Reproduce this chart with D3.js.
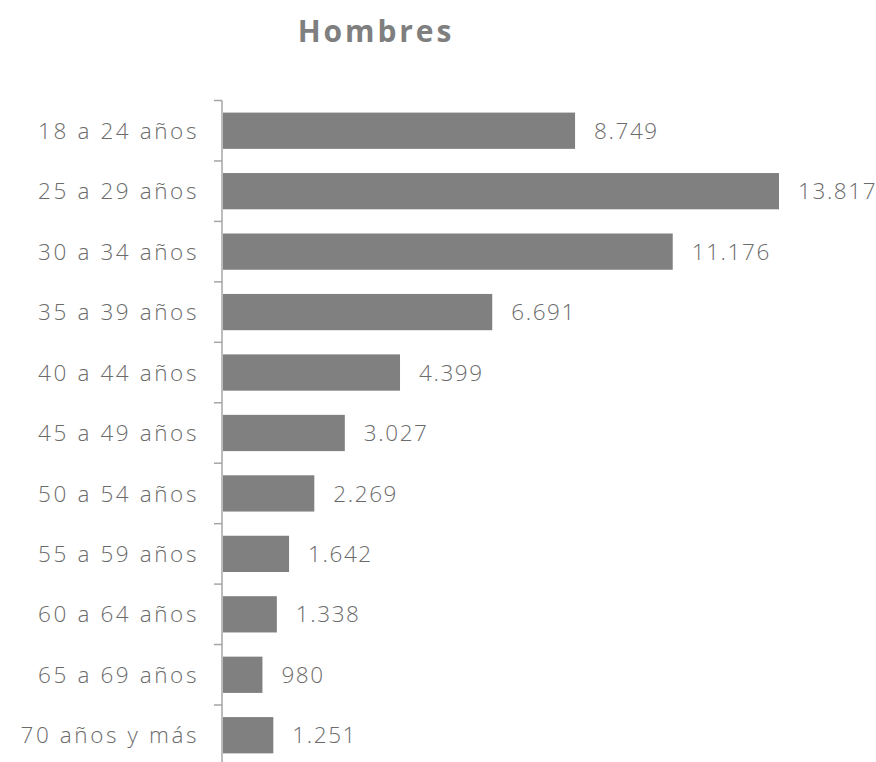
<!DOCTYPE html>
<html><head><meta charset="utf-8">
<script src="https://cdn.jsdelivr.net/npm/d3@7"></script>
<style>body{margin:0;background:#fff}svg{display:block}</style>
</head><body>
<script>
const categories = ["18 a 24 años","25 a 29 años","30 a 34 años","35 a 39 años","40 a 44 años","45 a 49 años","50 a 54 años","55 a 59 años","60 a 64 años","65 a 69 años","70 años y más"];
const values = [8749,13817,11176,6691,4399,3027,2269,1642,1338,980,1251];
const title = "Hombres";

const W = 876, H = 762;
const font = "'Century Gothic','URW Gothic','Open Sans','DejaVu Sans',sans-serif";
const svg = d3.select("body").append("svg").attr("width", W).attr("height", H);
const x0 = 222;
const x = d3.scaleLinear().domain([0, 13817]).range([0, 556]);
const y = d3.scaleBand().domain(categories).range([100.5, 100.5 + 60.45 * categories.length]).paddingInner(0.4).paddingOuter(0.2);

svg.append("text").attr("x", 376).attr("y", 42).attr("text-anchor", "middle")
  .attr("font-family", font).attr("font-weight", "bold").attr("font-size", 30).attr("letter-spacing", 2.9)
  .attr("fill", "#7f7f7f").text(title);

const g = svg.append("g").attr("transform", `translate(${x0},0)`);
g.selectAll("rect").data(values).join("rect")
  .attr("x", 1).attr("y", (d, i) => y(categories[i])).attr("width", d => x(d)).attr("height", y.bandwidth())
  .attr("fill", "#808080");

const step = y.step();
g.append("line").attr("x1", 0).attr("x2", 0).attr("y1", 100.5).attr("y2", 100.5 + step * categories.length).attr("stroke", "#a6a6a6").attr("stroke-width", 1.5);
g.selectAll("line.tk").data(d3.range(categories.length + 1)).join("line").attr("class", "tk")
  .attr("x1", -8).attr("x2", 0).attr("y1", i => 100.5 + i * step).attr("y2", i => 100.5 + i * step)
  .attr("stroke", "#a6a6a6").attr("stroke-width", 1.5);

g.selectAll("text.cat").data(categories).join("text").attr("class", "cat")
  .attr("x", -23).attr("y", d => y(d) + y.bandwidth() / 2).attr("dy", "0.36em").attr("text-anchor", "end")
  .attr("font-family", font).attr("font-weight", 300).attr("font-size", 22.5).attr("letter-spacing", 2.6)
  .attr("fill", "#6b6b6b").text(d => d);

const fmt = d3.formatLocale({decimal: ",", thousands: ".", grouping: [3], currency: ["", ""]}).format(",d");
g.selectAll("text.val").data(values).join("text").attr("class", "val")
  .attr("x", d => x(d) + 20).attr("y", (d, i) => y(categories[i]) + y.bandwidth() / 2).attr("dy", "0.36em")
  .attr("font-family", font).attr("font-weight", 300).attr("font-size", 22.5).attr("letter-spacing", 1.6)
  .attr("fill", "#6b6b6b").text(d => fmt(d));
</script>
</body></html>
